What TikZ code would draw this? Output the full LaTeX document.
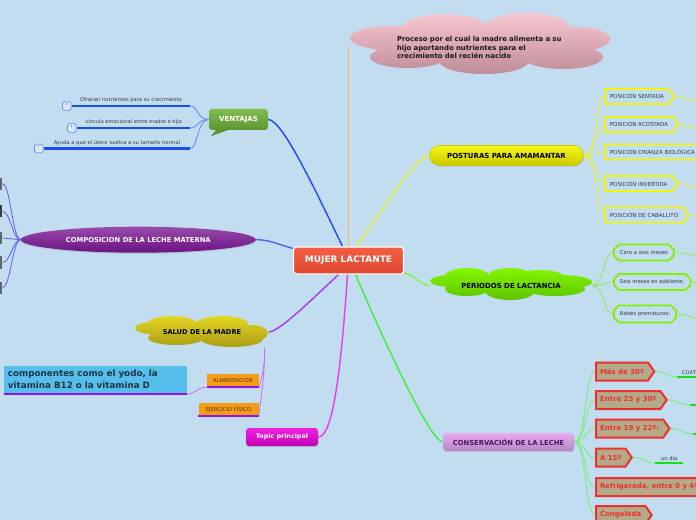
\documentclass[tikz,border=0pt]{standalone}
\usepackage{fontspec}
\setmainfont{DejaVu Sans}
\usetikzlibrary{shapes.symbols,shapes.misc,shapes.geometric,shadows}

\definecolor{paperblue}{RGB}{194,221,240}
\definecolor{inkgray}{RGB}{48,56,70}
\definecolor{mujertop}{RGB}{242,94,68}
\definecolor{mujerbot}{RGB}{224,72,48}
\definecolor{pinktop}{RGB}{248,200,210}
\definecolor{pinkbot}{RGB}{190,140,150}
\definecolor{orangeline}{RGB}{240,180,100}
\definecolor{venttop}{RGB}{130,188,78}
\definecolor{ventbot}{RGB}{92,150,48}
\definecolor{mainblue}{RGB}{30,72,240}
\definecolor{ventlink}{RGB}{90,135,245}
\definecolor{ventline}{RGB}{24,78,240}
\definecolor{iconblue}{RGB}{100,150,235}
\definecolor{iconfill}{RGB}{220,234,250}
\definecolor{complink}{RGB}{92,92,245}
\definecolor{comptop}{RGB}{154,74,172}
\definecolor{compbot}{RGB}{106,18,130}
\definecolor{stubgray}{RGB}{96,102,112}
\definecolor{yelltop}{RGB}{248,248,20}
\definecolor{yellbot}{RGB}{200,200,0}
\definecolor{yellframe}{RGB}{244,244,10}
\definecolor{yellline}{RGB}{236,240,40}
\definecolor{limetop}{RGB}{132,246,0}
\definecolor{limebot}{RGB}{92,196,0}
\definecolor{limeframe}{RGB}{132,240,0}
\definecolor{limeline}{RGB}{140,240,60}
\definecolor{olivetop}{RGB}{228,214,34}
\definecolor{olivebot}{RGB}{170,156,20}
\definecolor{violetline}{RGB}{165,60,235}
\definecolor{lilacline}{RGB}{192,112,240}
\definecolor{purpleline}{RGB}{145,20,240}
\definecolor{alimorange}{RGB}{246,155,20}
\definecolor{healthink}{RGB}{80,50,30}
\definecolor{compblue}{RGB}{86,190,236}
\definecolor{compink}{RGB}{30,52,64}
\definecolor{magtop}{RGB}{240,34,226}
\definecolor{magbot}{RGB}{192,0,178}
\definecolor{magline}{RGB}{230,60,235}
\definecolor{constop}{RGB}{234,170,242}
\definecolor{consbot}{RGB}{182,134,198}
\definecolor{consink}{RGB}{74,20,90}
\definecolor{consgreen}{RGB}{60,240,60}
\definecolor{conslink}{RGB}{110,240,110}
\definecolor{tagred}{RGB}{238,48,48}
\definecolor{tagkhaki}{RGB}{178,170,136}
\definecolor{leafgreen}{RGB}{20,226,20}

\pgfdeclarelayer{paper}
\pgfdeclarelayer{links}
\pgfsetlayers{paper,links,main}

\begin{document}
\begin{tikzpicture}[x=1bp,y=-1bp,
  mainlink/.style={line width=1.4bp},
  sublink/.style={line width=0.8bp},
  shadowed/.style={drop shadow={opacity=0.25,shadow xshift=0.5bp,shadow yshift=-1.2bp}},
  topicbox/.style={rounded corners=3bp,inner sep=0,font=\fontsize{6.8}{8}\selectfont\bfseries,shadowed},
  cloudtext/.style={inner sep=0,font=\fontsize{7}{8}\selectfont\bfseries,text=black},
  poscard/.style={signal,signal to=east,signal pointer angle=110,draw=yellframe,line width=1.8bp,fill=paperblue,text=inkgray,font=\fontsize{5.5}{6}\selectfont,minimum height=15bp,inner xsep=5bp,anchor=west},
  periodcard/.style={chamfered rectangle,chamfered rectangle xsep=2.5bp,chamfered rectangle ysep=2.5bp,draw=limeframe,line width=1.8bp,fill=paperblue,text=inkgray,font=\fontsize{5.3}{6}\selectfont,minimum height=16bp,inner xsep=3.5bp,anchor=west},
  temptag/.style={signal,signal to=east,signal pointer angle=110,draw=tagred,line width=2bp,fill=tagkhaki,text=tagred,font=\fontsize{7}{8}\selectfont\bfseries,minimum height=18bp,inner xsep=4bp,anchor=west},
  note/.style={font=\fontsize{5.2}{6}\selectfont,text=inkgray,inner xsep=0,inner ysep=3bp,anchor=south},
  noteicon/.style={draw=iconblue,fill=iconfill,rounded corners=1.5bp,minimum size=8.5bp,inner sep=0,line width=0.7bp,
    path picture={\draw[iconblue,line width=0.7bp] ([yshift=-1.5bp]path picture bounding box.north) -- ([yshift=1bp]path picture bounding box.center);}},
  healthbox/.style={fill=alimorange,text=healthink,font=\fontsize{5.3}{6}\selectfont,minimum height=13bp,inner sep=0},
  leaf/.style={font=\fontsize{5.2}{6}\selectfont,text=inkgray,inner xsep=3bp,inner ysep=2.5bp,anchor=south west},
  stub/.style={fill=stubgray,minimum width=12bp,minimum height=12bp,inner sep=0,anchor=east}]

\useasboundingbox (0,0) rectangle (696,520);
\begin{pgfonlayer}{paper}
\fill[paperblue] (0,0) rectangle (696,520);
\end{pgfonlayer}

% central topic
\node[topicbox,top color=mujertop,bottom color=mujerbot,draw=white,line width=1.2bp,text=white,
  minimum width=110bp,minimum height=27bp,font=\fontsize{9}{10}\selectfont\bfseries] (mujer) at (348.5,260.5) {MUJER LACTANTE};

% pink cloud on top
\shade[top color=pinktop,bottom color=pinkbot] (392,38) ellipse (42 and 12) (445,28) ellipse (43 and 14)
  (527,27) ellipse (42 and 14) (578,39) ellipse (32 and 12) (408,57) ellipse (38 and 11)
  (484,61) ellipse (45 and 13) (563,57) ellipse (40 and 12) (480,44) ellipse (110 and 18);
\node[inner sep=0,font=\fontsize{6.9}{8.5}\selectfont\bfseries,text=black!90,text width=172bp,align=left,
  minimum width=260bp,minimum height=61bp] (proceso) at (483,47.5)
  {Proceso por el cual la madre alimenta a su\\hijo aportando nutrientes para el\\crecimiento del recién nacido};

% ventajas
\node[rounded corners=3bp,top color=venttop,bottom color=ventbot,text=white,minimum width=59bp,minimum height=21bp,
  inner sep=0,font=\fontsize{7}{8}\selectfont\bfseries] (ventajas) at (238.5,119.5) {VENTAJAS};
\fill[ventbot] ([xshift=7bp]ventajas.south west) -- ++(12,0) -- ++(-17,6) -- cycle;
\node[note,minimum width=118bp] (ofrecen) at (131,106) {Ofrecen nutrientes para su crecimiento};
\node[note,minimum width=113bp] (vinculo) at (133.5,128) {vínculo emocional entre madre e hijo};
\node[note,minimum width=146bp] (ayuda) at (117,148.5) {Ayuda a que el útero vuelva a su tamaño normal};
\draw[ventline,line width=2.2bp] (ofrecen.south west) -- (ofrecen.south east);
\draw[ventline,line width=2.2bp] (vinculo.south west) -- (vinculo.south east);
\draw[ventline,line width=2.2bp] (ayuda.south west) -- (ayuda.south east);
\node[noteicon] (ofrecen-icon) at ([xshift=-5bp]ofrecen.south west) {};
\node[noteicon] (vinculo-icon) at ([xshift=-5bp]vinculo.south west) {};
\node[noteicon] (ayuda-icon) at ([xshift=-5bp]ayuda.south west) {};

% composicion
\node[ellipse,shadowed,top color=comptop,bottom color=compbot,text=white,minimum width=235bp,minimum height=26bp,
  inner sep=0,font=\fontsize{6.8}{8}\selectfont\bfseries] (composicion) at (138.3,239.7) {COMPOSICION DE LA LECHE MATERNA};
\node[stub] (leche1) at (2.5,184) {};
\node[stub,fill=stubgray!60!black] (leche2) at (2.5,211.5) {};
\node[stub] (leche3) at (2.5,238) {};
\node[stub] (leche4) at (2.5,262.5) {};
\node[stub] (leche5) at (2.5,287.5) {};

% posturas
\node[rounded corners=10bp,shadowed,top color=yelltop,bottom color=yellbot,draw=yellbot,line width=0.6bp,text=black,
  minimum width=154bp,minimum height=20bp,inner sep=0,font=\fontsize{7}{8}\selectfont\bfseries] (posturas) at (506.5,155.5) {POSTURAS PARA AMAMANTAR};
\node[poscard] (sentada) at (604,96.5) {POSICIÓN SENTADA};
\node[poscard] (acostada) at (604,124.5) {POSICIÓN ACOSTADA};
\node[poscard] (crianza) at (604,152) {POSICIÓN CRIANZA BIOLÓGICA};
\node[poscard] (invertida) at (604,183.5) {POSICIÓN INVERTIDA};
\node[poscard] (caballito) at (604,215) {POSICIÓN DE CABALLITO};
\coordinate (sentada-out) at (716,112);
\coordinate (acostada-out) at (716,140);
\coordinate (invertida-out) at (716,198);
\coordinate (caballito-out) at (716,230);

% periodos
\shade[top color=limetop,bottom color=limebot] (452,281) ellipse (22 and 6) (467,276) ellipse (22 and 8)
  (510,276) ellipse (22 and 8) (540,277) ellipse (24 and 7) (560,282) ellipse (32 and 7) (467,289) ellipse (22 and 7)
  (510,292) ellipse (24 and 8) (555,289) ellipse (30 and 7) (510,284) ellipse (62 and 9);
\node[cloudtext,minimum width=162bp,minimum height=33bp] (periodos) at (511,285.5) {PERIODOS DE LACTANCIA};
\node[periodcard] (cero) at (613,252.5) {Cero a seis meses};
\node[periodcard] (seis) at (613,282) {Seis meses en adelante:};
\node[periodcard] (bebes) at (613,314) {Bebés prematuros:};
\coordinate (cero-out) at (714,262);
\coordinate (seis-out) at (714,285);
\coordinate (bebes-out) at (714,326);

% salud
\shade[top color=olivetop,bottom color=olivebot] (152,328) ellipse (17 and 6) (172,324) ellipse (25 and 8)
  (222,324) ellipse (26 and 8) (252,333) ellipse (16 and 8) (176,338) ellipse (28 and 7)
  (232,339) ellipse (31 and 8) (205,332) ellipse (58 and 9);
\node[cloudtext,font=\fontsize{6.7}{8}\selectfont\bfseries,minimum width=133bp,minimum height=31bp] (salud) at (202,332) {SALUD DE LA MADRE};
\node[healthbox,minimum width=52bp] (alimentacion) at (233,380.5) {ALIMENTACIÓN};
\node[healthbox,minimum width=60bp] (ejercicio) at (228.5,409.5) {EJERCICIO FÍSICO};
\draw[purpleline,line width=1.8bp] (alimentacion.south west) -- (alimentacion.south east);
\draw[purpleline,line width=1.8bp] (ejercicio.south west) -- (ejercicio.south east);
\node[fill=compblue,text=compink,minimum width=183bp,minimum height=27bp,inner xsep=4bp,inner ysep=0,text width=175bp,align=left,
  font=\fontsize{8.8}{12}\selectfont\bfseries] (componentes) at (95.5,379.5) {componentes como el yodo, la\\vitamina B12 o la vitamina D};
\draw[purpleline,line width=2bp] ([yshift=-1bp]componentes.south west) -- ([yshift=-1bp]componentes.south east);

% topic principal
\node[topicbox,top color=magtop,bottom color=magbot,text=white,minimum width=72bp,minimum height=18bp,
  font=\fontsize{6.4}{8}\selectfont\bfseries] (topic) at (282,437) {Topic principal};

% conservacion
\node[topicbox,top color=constop,bottom color=consbot,text=consink,minimum width=131bp,minimum height=18bp] (conservacion) at (508.5,442) {CONSERVACIÓN DE LA LECHE};
\node[temptag] (mas) at (595,371.5) {Más de 30º};
\node[temptag] (entre25) at (595,400) {Entre 25 y 30º};
\node[temptag] (entre19) at (595,428.5) {Entre 19 y 22º:};
\node[temptag] (quince) at (595,457.5) {A 15º};
\node[temptag] (refrigerada) at (595,487) {Refrigerada, entre 0 y 4º};
\node[temptag] (congelada) at (595,515) {Congelada};
\node[leaf,inner xsep=5bp] (cuatro) at (677,377) {CUATRO HORAS};
\node[leaf,minimum width=30bp] (entre25-leaf) at (690,405) {};
\node[leaf,minimum width=30bp] (entre19-leaf) at (693,434) {};
\node[leaf,minimum width=28bp] (undia) at (655,463) {un día};
\draw[leafgreen,line width=2.4bp] (cuatro.south west) -- (cuatro.south east);
\draw[leafgreen,line width=2.4bp] (entre25-leaf.south west) -- (entre25-leaf.south east);
\draw[leafgreen,line width=2.4bp] (entre19-leaf.south west) -- (entre19-leaf.south east);
\draw[leafgreen,line width=2.4bp] (undia.south west) -- (undia.south east);

\begin{pgfonlayer}{links}
% main branches
\draw[mainlink,orangeline] (mujer.north) -- (mujer.north |- proceso.west);
\draw[mainlink,mainblue] (ventajas.east) .. controls +(14,0) and +(-28,-58) .. ([xshift=-6bp]mujer.north);
\draw[mainlink,complink] (composicion.east) .. controls +(14,0) and +(-15,-4) .. ([yshift=-2bp]mujer.north west);
\draw[mainlink,yellline] ([xshift=8bp]mujer.north) .. controls +(22,-30) and +(-14,0) .. (posturas.west);
\draw[mainlink,limeline] ([yshift=2bp]mujer.south east) .. controls +(10,3) and +(-8,0) .. (periodos.west);
\draw[mainlink,violetline] ([xshift=-10bp]mujer.south) .. controls +(-30,28) and +(10,0) .. (salud.east);
\draw[mainlink,magline] ([xshift=-1bp]mujer.south) .. controls +(-8,120) and +(12,0) .. (topic.east);
\draw[mainlink,consgreen] ([xshift=7bp]mujer.south) .. controls +(30,70) and +(-12,0) .. (conservacion.west);
% ventajas
\draw[sublink,ventlink] (ventajas.west) .. controls +(-12,0) and +(8,0) .. (ofrecen.south east);
\draw[sublink,ventlink] (ventajas.west) .. controls +(-12,0) and +(8,0) .. (vinculo.south east);
\draw[sublink,ventlink] (ventajas.west) .. controls +(-12,0) and +(8,0) .. (ayuda.south east);
% composicion
\draw[sublink,complink] (composicion.west) .. controls +(-8,0) and +(8,0) .. (leche1.east);
\draw[sublink,complink] (composicion.west) .. controls +(-8,0) and +(8,0) .. (leche2.east);
\draw[sublink,complink] (composicion.west) -- (leche3.east);
\draw[sublink,complink] (composicion.west) .. controls +(-8,0) and +(8,0) .. (leche4.east);
\draw[sublink,complink] (composicion.west) .. controls +(-8,0) and +(8,0) .. (leche5.east);
% posturas
\draw[sublink,yellline] (posturas.east) .. controls +(14,0) and +(-8,0) .. (sentada.west);
\draw[sublink,yellline] (posturas.east) .. controls +(14,0) and +(-8,0) .. (acostada.west);
\draw[sublink,yellline] (posturas.east) .. controls +(14,0) and +(-8,0) .. (crianza.west);
\draw[sublink,yellline] (posturas.east) .. controls +(14,0) and +(-8,0) .. (invertida.west);
\draw[sublink,yellline] (posturas.east) .. controls +(14,0) and +(-8,0) .. (caballito.west);
\draw[sublink,yellline] (sentada.east) .. controls +(14,0) and +(-12,-6) .. (sentada-out);
\draw[sublink,yellline] (acostada.east) .. controls +(12,0) and +(-12,-6) .. (acostada-out);
\draw[sublink,yellline] (invertida.east) .. controls +(12,0) and +(-12,-6) .. (invertida-out);
\draw[sublink,yellline] (caballito.east) .. controls +(10,0) and +(-12,-6) .. (caballito-out);
% periodos
\draw[sublink,limeline] (periodos.east) .. controls +(12,0) and +(-10,0) .. (cero.west);
\draw[sublink,limeline] (periodos.east) .. controls +(12,0) and +(-10,0) .. (seis.west);
\draw[sublink,limeline] (periodos.east) .. controls +(12,0) and +(-10,0) .. (bebes.west);
\draw[sublink,limeline] (cero.east) .. controls +(12,0) and +(-12,-4) .. (cero-out);
\draw[sublink,limeline] (seis.east) -- (seis-out);
\draw[sublink,limeline] (bebes.east) .. controls +(12,0) and +(-12,-4) .. (bebes-out);
% salud
\draw[sublink,lilacline] ([xshift=-4bp]salud.south east) .. controls +(0,20) and +(3,-12) .. (alimentacion.south east);
\draw[sublink,lilacline] ([xshift=-4bp]salud.south east) .. controls +(0,28) and +(2,-16) .. (ejercicio.south east);
\draw[sublink,lilacline] (alimentacion.south west) .. controls +(-10,0) and +(8,0) .. ([yshift=-1bp]componentes.south east);
% conservacion
\draw[sublink,conslink] (conservacion.east) .. controls +(12,0) and +(-10,0) .. (mas.west);
\draw[sublink,conslink] (conservacion.east) .. controls +(12,0) and +(-10,0) .. (entre25.west);
\draw[sublink,conslink] (conservacion.east) .. controls +(12,0) and +(-10,0) .. (entre19.west);
\draw[sublink,conslink] (conservacion.east) .. controls +(12,0) and +(-10,0) .. (quince.west);
\draw[sublink,conslink] (conservacion.east) .. controls +(12,0) and +(-10,0) .. (refrigerada.west);
\draw[sublink,conslink] (conservacion.east) .. controls +(12,0) and +(-10,0) .. (congelada.west);
\draw[sublink,conslink] (mas.east) .. controls +(10,0) and +(-10,0) .. (cuatro.south west);
\draw[sublink,conslink] (entre25.east) .. controls +(10,0) and +(-10,0) .. (entre25-leaf.south west);
\draw[sublink,conslink] (entre19.east) .. controls +(10,0) and +(-10,0) .. (entre19-leaf.south west);
\draw[sublink,conslink] (quince.east) .. controls +(10,0) and +(-10,0) .. (undia.south west);
\end{pgfonlayer}
\end{tikzpicture}
\end{document}
